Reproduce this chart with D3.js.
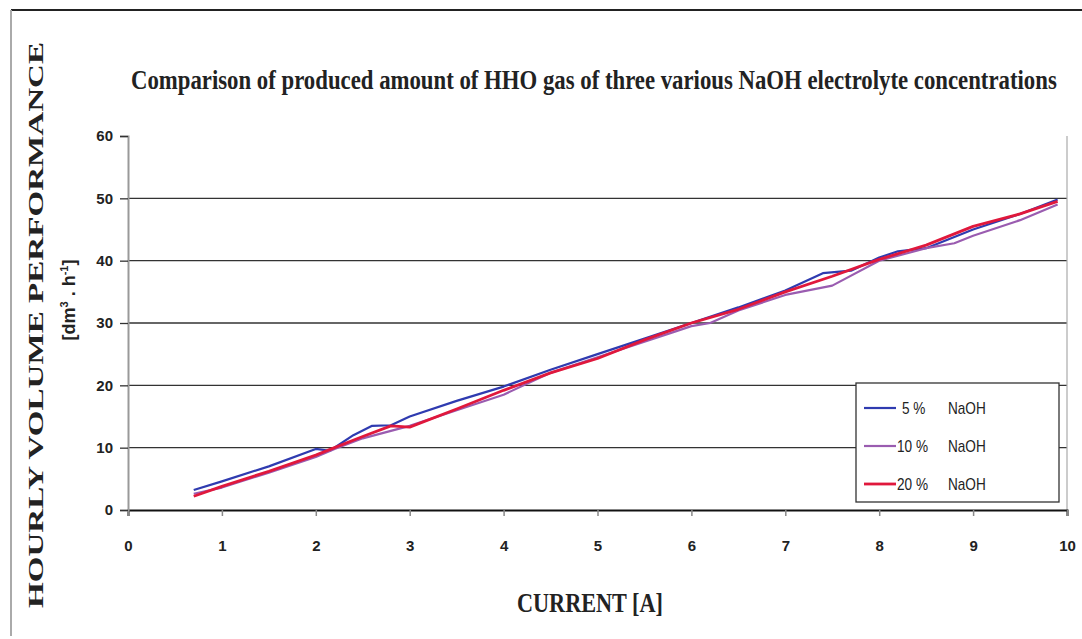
<!DOCTYPE html>
<html>
<head>
<meta charset="utf-8">
<script src="https://cdn.jsdelivr.net/npm/d3@7"></script>
<style>
  body { margin: 0; background: #fff; }
  svg { display: block; }
  .tick text { font-family: "Liberation Sans", Arial, sans-serif; font-weight: bold; font-size: 15px; fill: #222; }
</style>
</head>
<body>
<svg id="chart" width="1082" height="639"></svg>
<script>
// Data
const current5 = [0.7, 1.0, 1.5, 2.0, 2.15, 2.4, 2.6, 2.8, 3.0, 3.5, 4.0, 4.5, 5.0, 5.5, 6.0, 6.5, 7.0, 7.4, 7.7, 8.0, 8.2, 8.5, 9.0, 9.5, 9.9];
const volume5 = [3.2, 4.6, 7.0, 9.8, 9.5, 12.0, 13.5, 13.6, 15.0, 17.5, 19.8, 22.5, 25.0, 27.5, 30.0, 32.5, 35.2, 38.0, 38.4, 40.5, 41.5, 42.0, 45.0, 47.5, 49.8];

const current10 = [0.7, 1.0, 1.5, 2.0, 2.2, 2.5, 3.0, 3.5, 4.0, 4.5, 5.0, 5.5, 5.8, 6.0, 6.2, 6.5, 7.0, 7.5, 8.0, 8.5, 8.8, 9.0, 9.5, 9.9];
const volume10 = [2.6, 3.6, 6.0, 8.5, 9.8, 11.5, 13.5, 16.0, 18.5, 22.0, 24.5, 27.0, 28.5, 29.5, 30.0, 32.0, 34.5, 36.0, 40.0, 42.0, 42.8, 44.0, 46.5, 49.0];

const current20 = [0.7, 1.0, 1.5, 2.0, 2.2, 2.5, 2.8, 3.0, 3.5, 4.0, 4.5, 5.0, 5.5, 6.0, 6.5, 7.0, 7.5, 8.0, 8.5, 9.0, 9.5, 9.9];
const volume20 = [2.2, 3.8, 6.2, 8.8, 10.0, 11.8, 13.5, 13.3, 16.2, 19.2, 22.0, 24.3, 27.3, 30.0, 32.2, 35.0, 37.5, 40.2, 42.5, 45.5, 47.5, 49.5];

const seriesPct = ['5 %', '10 %', '20 %'];
const seriesName = 'NaOH';
const xTicks = [0, 1, 2, 3, 4, 5, 6, 7, 8, 9, 10];
const yTicks = [0, 10, 20, 30, 40, 50, 60];

const colors = ['#2f3bb0', '#9a5cb0', '#e0183c'];
const widths = [2.2, 2.2, 2.8];

const svg = d3.select('#chart');

// squeeze a text horizontally so it fills the given width (condensed look)
function fitText(sel, x, w) {
  const natural = sel.node().getComputedTextLength();
  const k = w / natural;
  sel.attr('x', 0).attr('transform', `translate(${x}, 0) scale(${k}, 1)`);
}

// outer frame
svg.append('line').attr('x1', 11).attr('x2', 1082).attr('y1', 10).attr('y2', 10)
  .attr('stroke', '#222').attr('stroke-width', 2);
svg.append('line').attr('x1', 11).attr('x2', 11).attr('y1', 10).attr('y2', 636)
  .attr('stroke', '#aaa').attr('stroke-width', 2);

// scales
const xScale = d3.scaleLinear().domain([0, 10]).range([128, 1067]);
const yScale = d3.scaleLinear().domain([0, 60]).range([510, 136]);

// gridlines
svg.append('g').selectAll('line')
  .data(yTicks.filter(d => d > 0 && d < 60))
  .enter().append('line')
  .attr('x1', xScale(0)).attr('x2', xScale(10))
  .attr('y1', d => yScale(d)).attr('y2', d => yScale(d))
  .attr('stroke', '#333').attr('stroke-width', 1.3);

// right border of plot area
svg.append('line')
  .attr('x1', xScale(10)).attr('x2', xScale(10))
  .attr('y1', yScale(60)).attr('y2', yScale(0))
  .attr('stroke', '#aaa').attr('stroke-width', 1.2);

// axes
const xAxis = d3.axisBottom(xScale).tickValues(xTicks).tickSize(6).tickPadding(24).tickFormat(d3.format('d'));
const yAxis = d3.axisLeft(yScale).tickValues(yTicks).tickSize(8).tickPadding(7);

const xAxisGroup = svg.append('g')
  .attr('transform', `translate(0, ${yScale(0)})`)
  .call(xAxis);
xAxisGroup.select('.domain').attr('stroke', '#111').attr('stroke-width', 2);
xAxisGroup.selectAll('.tick line').attr('stroke', '#888').attr('stroke-width', 1.5);

const yAxisGroup = svg.append('g')
  .attr('transform', `translate(${xScale(0)}, 0)`)
  .call(yAxis);
yAxisGroup.select('.domain').attr('stroke', '#999').attr('stroke-width', 2);
yAxisGroup.selectAll('.tick line').attr('stroke', '#333').attr('stroke-width', 1.3);

// lines
const line = d3.line().x(d => xScale(d[0])).y(d => yScale(d[1]));
const series = [
  d3.zip(current5, volume5),
  d3.zip(current10, volume10),
  d3.zip(current20, volume20)
];
series.forEach((s, i) => {
  svg.append('path')
    .datum(s)
    .attr('fill', 'none')
    .attr('stroke', colors[i])
    .attr('stroke-width', widths[i])
    .attr('stroke-linejoin', 'round')
    .attr('d', line);
});

// title
const title = svg.append('text')
  .attr('y', 89)
  .style('font-family', '"Liberation Serif", "Times New Roman", serif')
  .style('font-weight', 'bold').style('font-size', '27px').style('fill', '#222')
  .text('Comparison of  produced amount of HHO gas of three various NaOH electrolyte concentrations');
fitText(title, 131, 926);

// axis titles
const xTitle = svg.append('text')
  .attr('y', 612)
  .style('font-family', '"Liberation Serif", "Times New Roman", serif')
  .style('font-weight', 'bold').style('font-size', '28px').style('fill', '#222')
  .text('CURRENT [A]');
fitText(xTitle, 517, 146);

const yTitle = svg.append('text')
  .attr('transform', 'translate(43, 608) rotate(-90)')
  .attr('textLength', 566).attr('lengthAdjust', 'spacingAndGlyphs')
  .style('font-family', '"Liberation Serif", "Times New Roman", serif')
  .style('font-weight', 'bold').style('font-size', '21px').style('fill', '#222')
  .text('HOURLY VOLUME PERFORMANCE');

const unit = svg.append('text')
  .attr('transform', 'translate(75, 300) rotate(-90)')
  .attr('text-anchor', 'middle')
  .style('font-family', '"Liberation Sans", Arial, sans-serif')
  .style('font-weight', 'bold').style('font-size', '18px').style('fill', '#222');
unit.append('tspan').text('[dm');
unit.append('tspan').attr('dy', -7).style('font-size', '11px').text('3');
unit.append('tspan').attr('dy', 7).text(' . h');
unit.append('tspan').attr('dy', -7).style('font-size', '11px').text('-1');
unit.append('tspan').attr('dy', 7).text(']');

// legend
const legend = svg.append('g').attr('transform', 'translate(856, 383)');
legend.append('rect')
  .attr('width', 203).attr('height', 119)
  .attr('fill', '#fff').attr('stroke', '#333').attr('stroke-width', 1.3);
seriesPct.forEach((pct, i) => {
  const yy = 25 + i * 38;
  const px = i === 0 ? 46 : 41;
  legend.append('line')
    .attr('x1', 8).attr('x2', 40).attr('y1', yy).attr('y2', yy)
    .attr('stroke', colors[i]).attr('stroke-width', widths[i]);
  legend.append('text')
    .attr('x', 0).attr('y', yy + 6)
    .style('font-family', '"Liberation Sans", Arial, sans-serif')
    .style('font-size', '16px').style('fill', '#222')
    .attr('transform', `translate(${px}, 0) scale(0.85, 1)`)
    .text(pct);
  legend.append('text')
    .attr('x', 0).attr('y', yy + 6)
    .style('font-family', '"Liberation Sans", Arial, sans-serif')
    .style('font-size', '16px').style('fill', '#222')
    .attr('transform', 'translate(92, 0) scale(0.85, 1)')
    .text(seriesName);
});
</script>
</body>
</html>
